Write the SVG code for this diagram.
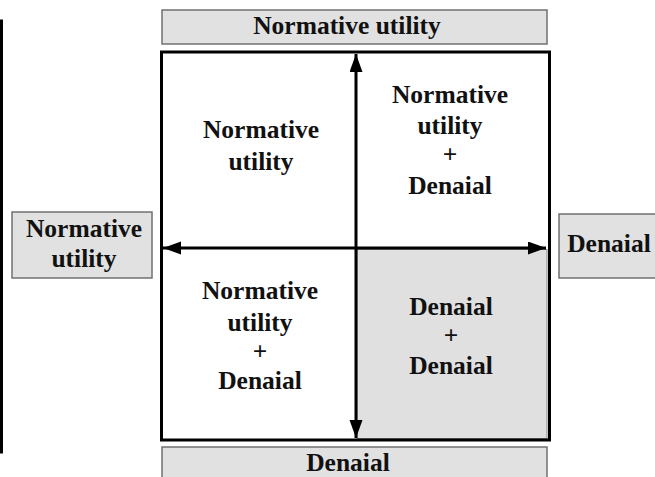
<svg xmlns="http://www.w3.org/2000/svg" width="655" height="477" viewBox="0 0 655 477">
<style>
.lbl{fill:#e1e1e1;stroke:#707070;stroke-width:1.5}
.t{font-family:"Liberation Serif","Times New Roman",serif;font-weight:bold;font-size:25.5px;fill:#111;text-anchor:middle}
.ln{stroke:#000;stroke-width:3;fill:none}
</style>
<defs>
<marker id="ah" markerUnits="userSpaceOnUse" markerWidth="20" markerHeight="14" refX="18" refY="6.5" orient="auto-start-reverse" viewBox="0 0 20 14">
<path d="M0,0 L18,6.5 L0,13 z" fill="#000"/>
</marker>
</defs>
<rect x="-20" y="21" width="21.5" height="431" fill="none" stroke="#000" stroke-width="3"/>
<g id="quad-br"><rect x="357" y="249.5" width="190" height="189" fill="#e0e0e0" stroke="#8a8a8a" stroke-width="1"/></g>
<g id="frame"><rect x="161.5" y="52" width="388" height="388" fill="none" stroke="#000" stroke-width="3"/></g>
<g id="connectors">
<line class="ln" x1="356" y1="54" x2="356" y2="438" marker-start="url(#ah)" marker-end="url(#ah)"/>
<line class="ln" x1="163" y1="248" x2="546" y2="248" marker-start="url(#ah)" marker-end="url(#ah)"/>
</g>
<g id="top"><rect class="lbl" x="162" y="10" width="385" height="34"/><text class="t" x="347" y="34">Normative utility</text></g>
<g id="bottom"><rect class="lbl" x="162" y="447" width="385" height="40"/><text class="t" x="348" y="471">Denaial</text></g>
<g id="left"><rect class="lbl" x="12" y="212" width="140" height="66"/><text class="t" x="84" y="237">Normative</text><text class="t" x="84" y="267">utility</text></g>
<g id="right"><rect class="lbl" x="559" y="214" width="110" height="64"/><text class="t" x="609" y="252">Denaial</text></g>
<g id="q-tl"><text class="t" x="261" y="138">Normative</text><text class="t" x="261" y="170">utility</text></g>
<g id="q-tr"><text class="t" x="450" y="103">Normative</text><text class="t" x="450" y="134">utility</text><text class="t" x="450" y="163">+</text><text class="t" x="450" y="194">Denaial</text></g>
<g id="q-bl"><text class="t" x="260" y="299">Normative</text><text class="t" x="260" y="331">utility</text><text class="t" x="260" y="360">+</text><text class="t" x="260" y="389">Denaial</text></g>
<g id="q-br"><text class="t" x="451" y="315">Denaial</text><text class="t" x="451" y="344">+</text><text class="t" x="451" y="374">Denaial</text></g>
</svg>
